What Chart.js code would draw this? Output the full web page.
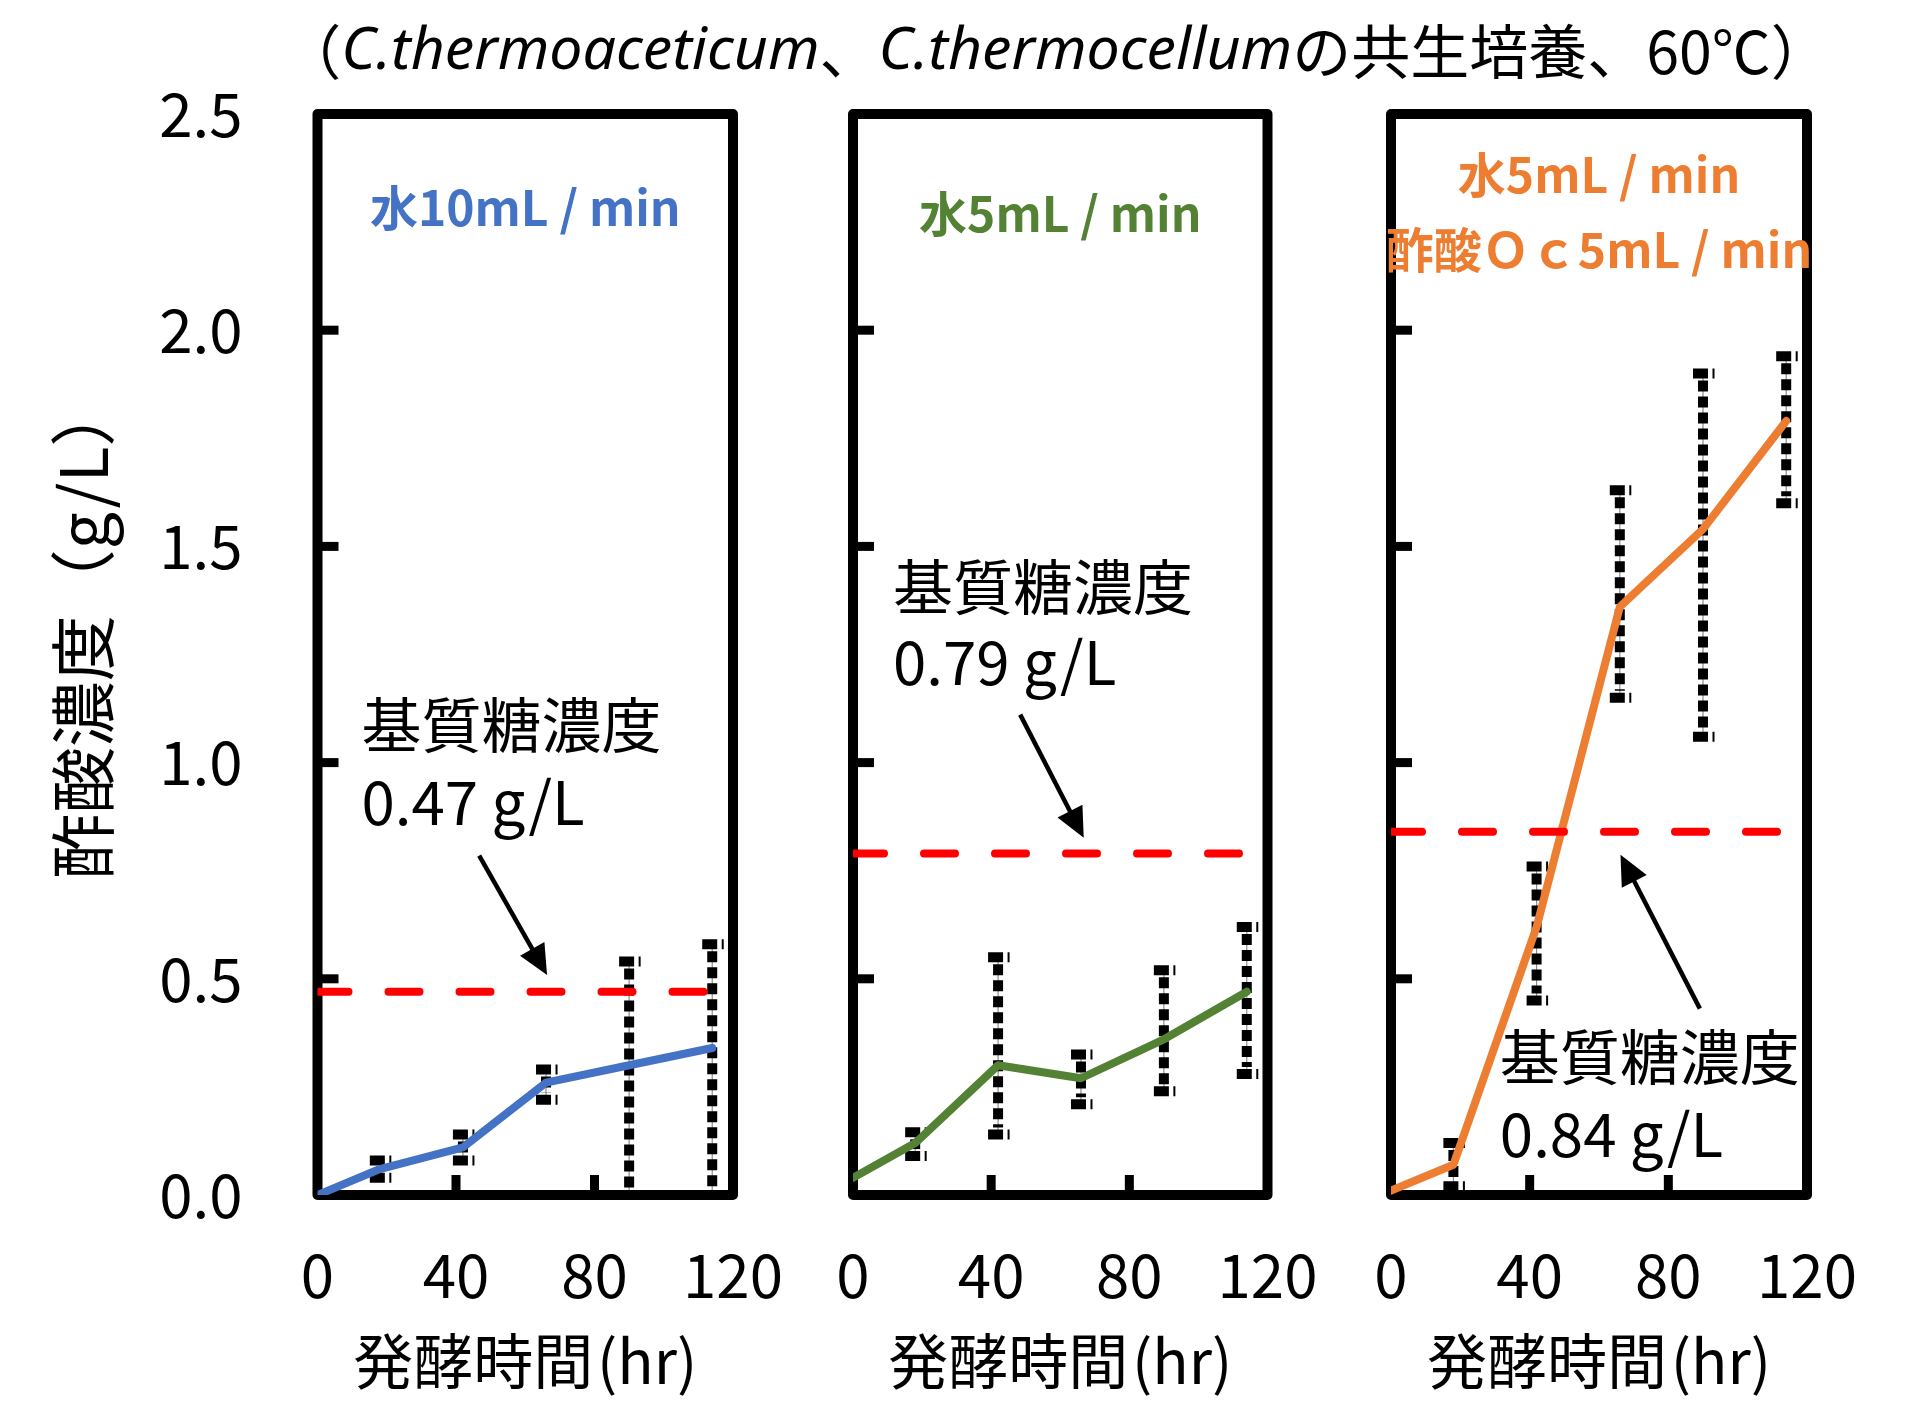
<!DOCTYPE html>
<html>
<head>
<meta charset="utf-8">
<script src="https://cdn.jsdelivr.net/npm/chart.js@4.4.1/dist/chart.umd.min.js"></script>
<style>
  html, body { margin: 0; padding: 0; background: #fff; }
  #wrap { position: relative; width: 1925px; height: 1422px; overflow: hidden; }
  #wrap canvas { position: absolute; left: 0; top: 0; }
</style>
</head>
<body>
<div id="wrap">
  <canvas id="c1" width="1925" height="1422"></canvas>
  <canvas id="c2" width="1925" height="1422"></canvas>
  <canvas id="c3" width="1925" height="1422"></canvas>
</div>
<script>
// Sampling times (hr) and axis ticks
const hours  = [0, 18, 42, 66, 90, 114];
const xTicks = [0, 40, 80, 120];
const yTicks = [0, 0.5, 1.0, 1.5, 2.0, 2.5];

// Acetic acid concentration (g/L) with error-bar limits, one set per run
const acidWater10 = [0.00, 0.06, 0.11, 0.26, 0.30, 0.34];
const lowWater10  = [null, 0.04, 0.08, 0.22, 0.00, 0.00];
const highWater10 = [null, 0.08, 0.14, 0.29, 0.54, 0.58];

const acidWater5 = [0.04, 0.12, 0.30, 0.27, 0.36, 0.47];
const lowWater5  = [null, 0.09, 0.14, 0.21, 0.24, 0.28];
const highWater5 = [null, 0.145, 0.55, 0.325, 0.52, 0.62];

const acidOc5 = [0.01, 0.07, 0.62, 1.36, 1.54, 1.79];
const lowOc5  = [null, 0.02, 0.45, 1.15, 1.06, 1.60];
const highOc5 = [null, 0.12, 0.76, 1.63, 1.90, 1.94];

// Substrate sugar concentration for each run (g/L)
const sugarLevels = [0.47, 0.79, 0.84];

// Run labels and colours
const runLabels = [['水10mL / min'], ['水5mL / min'], ['水5mL / min', '酢酸Ｏｃ5mL / min']];
const runColors = ['#4472C4', '#548235', '#ED7D31'];

const titleParts = [
  ['（', false], ['C.thermoaceticum', true], ['、', false],
  ['C.thermocellum', true], ['の共生培養、60℃）', false]
];
const xTitle = '発酵時間\u200A(hr)';
const yTitle = '酢酸濃度（g/L）';
const noteTitle = '基質糖濃度';

// ---- layout (pixels) ----
const W = 1925, H = 1422;
const PLOT_TOP = 114, PLOT_BOTTOM = 1195;
const Y_AXIS_W = 270.5, X_AXIS_H = 202;
const panelEdges = [[317.5, 733], [853, 1267.5], [1391, 1807]];

// Annotation placement in data units (hr, g/L)
const annot = [
  { labelY: [2.284], noteX: 12.7, noteY: [1.086, 0.856], arrow: [46.7, 0.785, 66.3, 0.509] },
  { labelY: [2.27],  noteX: 11.6, noteY: [1.406, 1.179], arrow: [48.4, 1.111, 66.8, 0.826] },
  { labelY: [2.359, 2.185], noteX: 31.4, noteY: [0.318, 0.089], arrow: [89.1, 0.431, 66.2, 0.787] }
];

const runs = [
  { acid: acidWater10, low: lowWater10, high: highWater10 },
  { acid: acidWater5,  low: lowWater5,  high: highWater5 },
  { acid: acidOc5,     low: lowOc5,     high: highOc5 }
];

const JP = "'Noto Sans CJK JP', 'Noto Sans', sans-serif";
Chart.defaults.font.family = JP;
Chart.defaults.color = '#000';

function seg(ctx, x0, y0, x1, y1) {
  ctx.beginPath(); ctx.moveTo(x0, y0); ctx.lineTo(x1, y1); ctx.stroke();
}

function drawArrow(ctx, x0, y0, x1, y1) {
  const ang = Math.atan2(y1 - y0, x1 - x0);
  const headLen = 30, half = 14;
  const bx = x1 - headLen * Math.cos(ang), by = y1 - headLen * Math.sin(ang);
  ctx.lineWidth = 4.5; ctx.lineCap = 'butt'; ctx.setLineDash([]);
  seg(ctx, x0, y0, bx + 2 * Math.cos(ang), by + 2 * Math.sin(ang));
  ctx.beginPath();
  ctx.moveTo(x1, y1);
  ctx.lineTo(bx + half * Math.sin(ang), by - half * Math.cos(ang));
  ctx.lineTo(bx - half * Math.sin(ang), by + half * Math.cos(ang));
  ctx.closePath(); ctx.fill();
}

function decorPlugin(i) {
  const run = runs[i], note = annot[i];
  return {
    id: 'panelDecor' + i,
    beforeDatasetsDraw(chart) {
      const { ctx, chartArea: a, scales: { x, y } } = chart;
      ctx.save();
      ctx.strokeStyle = '#000'; ctx.fillStyle = '#000';
      // frame
      ctx.lineWidth = 10; ctx.lineJoin = 'round';
      ctx.strokeRect(a.left, a.top, a.right - a.left, a.bottom - a.top);
      // inward tick marks
      ctx.lineWidth = 9; ctx.lineCap = 'butt';
      yTicks.slice(1, -1).forEach(v => {
        const py = y.getPixelForValue(v);
        seg(ctx, a.left, py, a.left + 21, py);
      });
      xTicks.slice(1, -1).forEach(v => {
        const px = x.getPixelForValue(v);
        seg(ctx, px, a.bottom, px, a.bottom - 20);
      });
      // error bars
      hours.forEach((h, k) => {
        if (run.low[k] == null) return;
        const px = x.getPixelForValue(h);
        const pl = y.getPixelForValue(run.low[k]);
        const ph = y.getPixelForValue(run.high[k]);
        ctx.setLineDash([]); ctx.lineWidth = 1.2; ctx.strokeStyle = '#8c8c8c';
        seg(ctx, px, ph, px, pl);
        ctx.strokeStyle = '#000';
        ctx.lineWidth = 10; ctx.setLineDash([11, 5]);
        seg(ctx, px, ph + 7, px, pl - 7);
        ctx.lineWidth = 10; ctx.setLineDash([15, 4.5, 2, 60]);
        seg(ctx, px - 10, ph, px + 12, ph);
        seg(ctx, px - 10, pl, px + 12, pl);
      });
      ctx.restore();
    },
    afterDatasetsDraw(chart) {
      const { ctx, scales: { x, y } } = chart;
      ctx.save();
      ctx.fillStyle = '#000'; ctx.strokeStyle = '#000';
      // arrow pointing at the sugar level
      const [ax0, ay0, ax1, ay1] = note.arrow;
      drawArrow(ctx, x.getPixelForValue(ax0), y.getPixelForValue(ay0),
                x.getPixelForValue(ax1), y.getPixelForValue(ay1));
      // sugar level note
      ctx.textAlign = 'left';
      ctx.font = '60px ' + JP;
      ctx.textBaseline = 'middle';
      ctx.fillText(noteTitle, x.getPixelForValue(note.noteX), y.getPixelForValue(note.noteY[0]));
      ctx.textBaseline = 'alphabetic';
      ctx.fillText(sugarLevels[i].toFixed(2) + ' g/L', x.getPixelForValue(note.noteX), y.getPixelForValue(note.noteY[1]));
      // run label
      ctx.font = 'bold 48px ' + JP;
      ctx.fillStyle = runColors[i];
      ctx.textAlign = 'center'; ctx.textBaseline = 'middle';
      runLabels[i].forEach((t, k) => {
        ctx.fillText(t, x.getPixelForValue(60), y.getPixelForValue(note.labelY[k]));
      });
      ctx.restore();
    },
    afterDraw(chart) {
      if (i !== 0) return;
      const ctx = chart.ctx;
      ctx.save();
      // y-axis title, reading bottom to top
      ctx.font = '66px ' + JP;
      ctx.fillStyle = '#000';
      ctx.textAlign = 'center'; ctx.textBaseline = 'middle';
      ctx.translate(83, 630);
      ctx.rotate(-Math.PI / 2);
      ctx.fillText(yTitle, 0, 0);
      ctx.setTransform(1, 0, 0, 1, 0, 0);
      // chart title with italic species names
      const size = 59;
      const fontOf = it => it ? `italic ${size}px 'Noto Sans', 'Open Sans', sans-serif` : `${size}px ${JP}`;
      let total = 0;
      titleParts.forEach(([t, it]) => { ctx.font = fontOf(it); total += ctx.measureText(t).width; });
      let cx = 1056 - total / 2;
      ctx.textBaseline = 'middle'; ctx.textAlign = 'left';
      titleParts.forEach(([t, it]) => {
        ctx.font = fontOf(it);
        ctx.fillText(t, cx, 52);
        cx += ctx.measureText(t).width;
      });
      ctx.restore();
    }
  };
}

function makeChart(i) {
  const [left, right] = panelEdges[i];
  const run = runs[i];
  const lastHour = hours[hours.length - 1];
  return new Chart(document.getElementById('c' + (i + 1)), {
    type: 'line',
    data: {
      datasets: [
        {
          label: noteTitle,
          data: [{ x: 0, y: sugarLevels[i] }, { x: lastHour, y: sugarLevels[i] }],
          borderColor: '#FF0000', borderWidth: 8,
          borderDash: [31, 40], borderCapStyle: 'round',
          pointRadius: 0, order: 0
        },
        {
          label: runLabels[i].join(' '),
          data: hours.map((h, k) => ({ x: h, y: run.acid[k] })),
          borderColor: runColors[i], borderWidth: 8,
          borderJoinStyle: 'round', borderCapStyle: 'round',
          pointRadius: 0, tension: 0, order: 1
        }
      ]
    },
    options: {
      responsive: false, animation: false, devicePixelRatio: 1,
      events: [],
      layout: { padding: { left: left - Y_AXIS_W, right: W - right, top: PLOT_TOP, bottom: H - PLOT_BOTTOM - X_AXIS_H } },
      plugins: { legend: { display: false }, tooltip: { enabled: false }, title: { display: false } },
      scales: {
        x: {
          type: 'linear', min: 0, max: 120,
          afterBuildTicks: s => { s.ticks = xTicks.map(v => ({ value: v })); },
          grid: { display: false, drawTicks: false }, border: { display: false },
          ticks: { font: { size: 60 }, color: '#000', padding: 44, maxRotation: 0, autoSkip: false },
          title: { display: true, text: xTitle, font: { size: 60 }, color: '#000', padding: 0 },
          afterFit: s => { s.height = X_AXIS_H; s.paddingLeft = 0; s.paddingRight = 0; }
        },
        y: {
          type: 'linear', min: 0, max: 2.5,
          afterBuildTicks: s => { s.ticks = yTicks.map(v => ({ value: v })); },
          grid: { display: false, drawTicks: false }, border: { display: false },
          ticks: { display: i === 0, font: { size: 60 }, color: '#000', padding: 75, callback: v => v.toFixed(1) },
          title: { display: false },
          afterFit: s => { s.width = Y_AXIS_W; s.paddingTop = 0; s.paddingBottom = 0; }
        }
      }
    },
    plugins: [decorPlugin(i)]
  });
}

[0, 1, 2].forEach(makeChart);
</script>
</body>
</html>
